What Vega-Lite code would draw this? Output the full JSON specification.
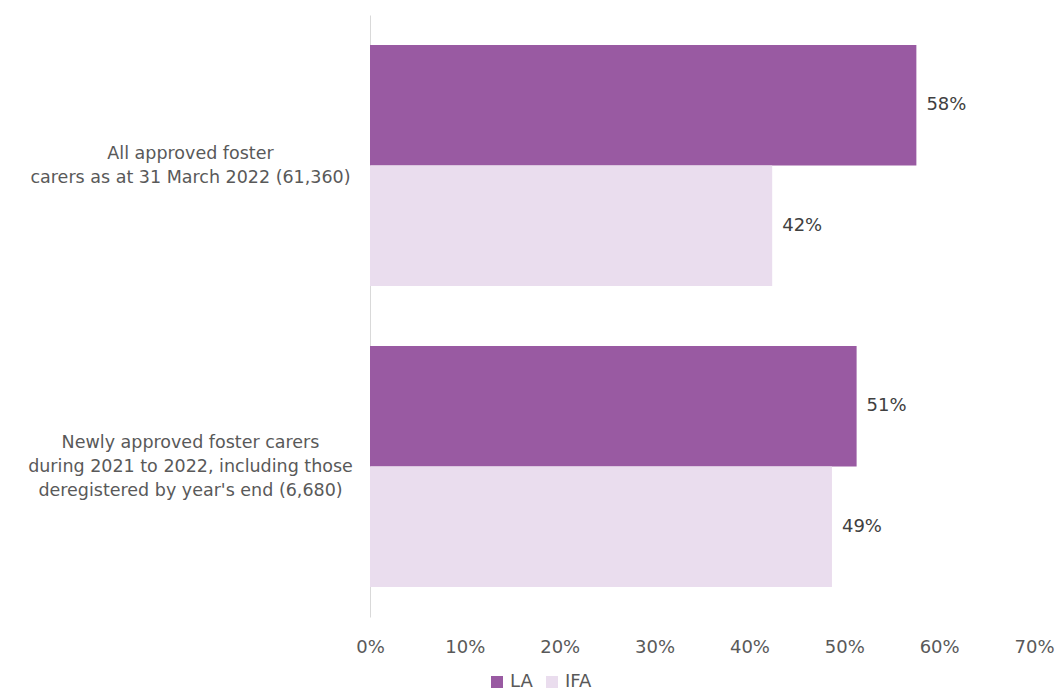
{
  "$schema": "https://vega.github.io/schema/vega-lite/v6.json",
  "width": 664,
  "height": 602,
  "autosize": {"type": "none"},
  "padding": {"left": 370, "top": 15, "right": 23, "bottom": 76},
  "background": "white",
  "config": {"view": {"stroke": null}, "font": "DejaVu Sans"},
  "data": {
    "values": [
      {"group": "All approved foster|carers as at 31 March 2022 (61,360)", "provider": "LA", "share": 0.576},
      {"group": "All approved foster|carers as at 31 March 2022 (61,360)", "provider": "IFA", "share": 0.424},
      {"group": "Newly approved foster carers|during 2021 to 2022, including those|deregistered by year's end (6,680)", "provider": "LA", "share": 0.513},
      {"group": "Newly approved foster carers|during 2021 to 2022, including those|deregistered by year's end (6,680)", "provider": "IFA", "share": 0.487}
    ]
  },
  "encoding": {
    "y": {
      "field": "group",
      "type": "nominal",
      "sort": null,
      "scale": {"paddingInner": 0.2, "paddingOuter": 0.1},
      "axis": {
        "title": null,
        "ticks": false,
        "domainColor": "#D9D9D9",
        "domainWidth": 1,
        "labelAlign": "center",
        "labelPadding": 180,
        "labelFontSize": 17.5,
        "labelColor": "#595959",
        "labelLineHeight": 24,
        "labelOffset": {"expr": "-12 * (length(split(datum.value, '|')) - 1)"},
        "labelExpr": "split(datum.value, '|')",
        "labelLimit": 400
      }
    },
    "yOffset": {"field": "provider", "type": "nominal", "sort": ["LA", "IFA"]},
    "x": {
      "field": "share",
      "type": "quantitative",
      "scale": {"domain": [0, 0.7], "nice": false},
      "axis": {
        "title": null,
        "format": ".0%",
        "values": [0, 0.1, 0.2, 0.3, 0.4, 0.5, 0.6, 0.7],
        "grid": false,
        "domain": false,
        "ticks": false,
        "labelFlush": false,
        "labelOverlap": false,
        "labelPadding": 21,
        "labelFontSize": 18,
        "labelColor": "#595959"
      }
    }
  },
  "layer": [
    {
      "mark": {"type": "bar"},
      "encoding": {
        "color": {
          "field": "provider",
          "type": "nominal",
          "sort": ["LA", "IFA"],
          "scale": {"domain": ["LA", "IFA"], "range": ["#995AA2", "#EADDEE"]},
          "legend": {
            "title": null,
            "orient": "none",
            "direction": "horizontal",
            "legendX": 118,
            "legendY": 658,
            "symbolType": "square",
            "symbolSize": 144,
            "symbolStrokeWidth": 0,
            "labelFontSize": 18,
            "labelColor": "#595959",
            "columnPadding": 10
          }
        }
      }
    },
    {
      "mark": {"type": "text", "align": "left", "baseline": "middle", "dx": 10, "fontSize": 18, "color": "#404040"},
      "encoding": {
        "text": {"field": "share", "type": "quantitative", "format": ".0%"}
      }
    }
  ]
}
